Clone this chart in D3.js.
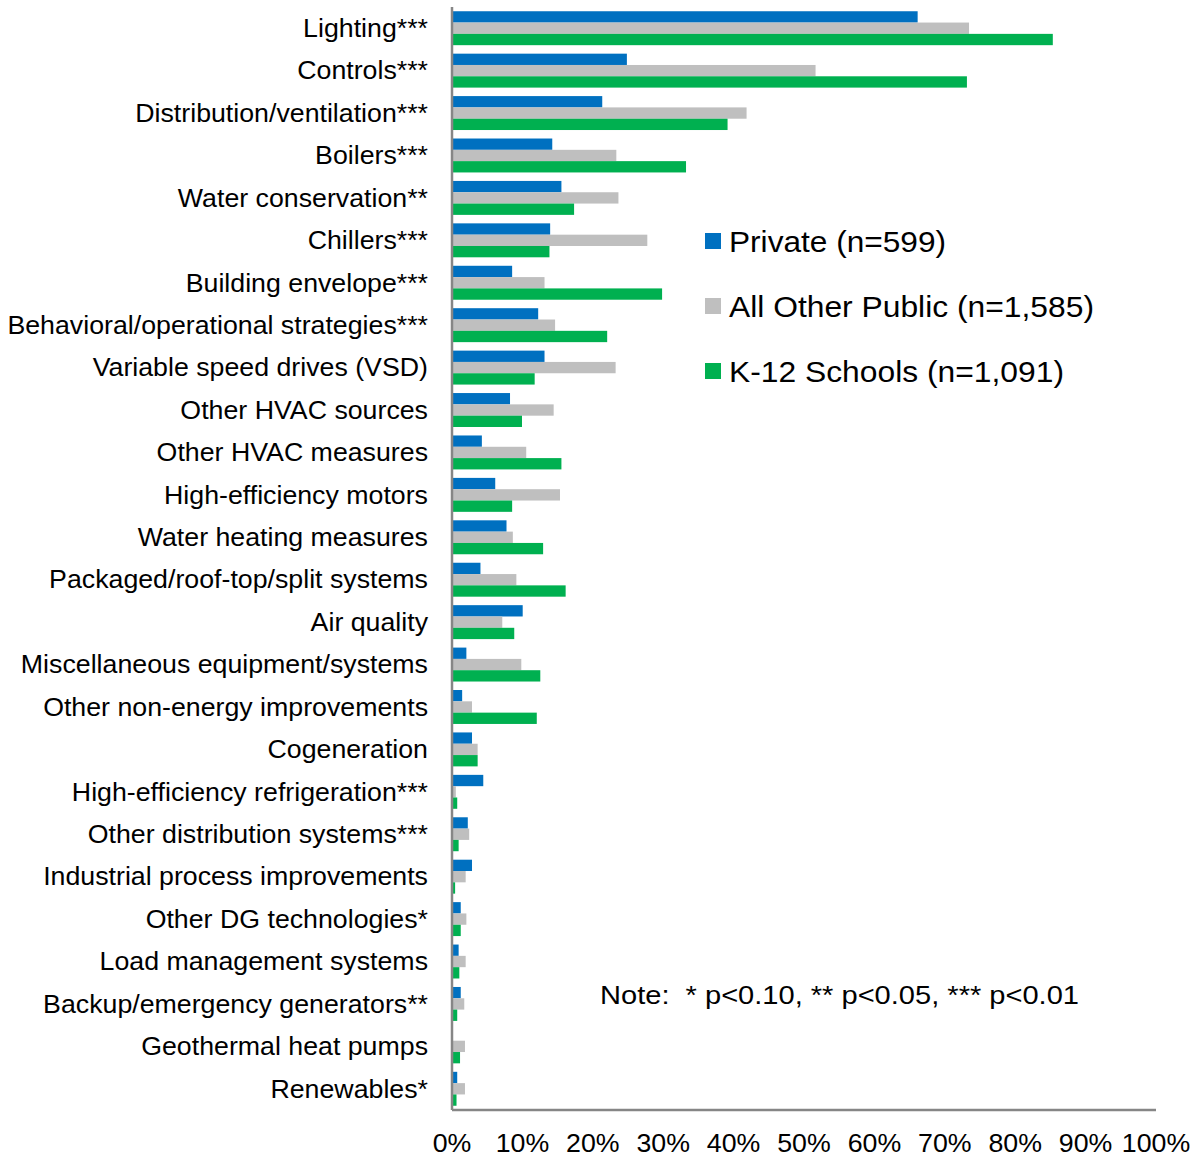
<!DOCTYPE html>
<html lang="en">
<head>
    <meta charset="UTF-8">
    <script src="https://cdn.jsdelivr.net/npm/d3@7/dist/d3.min.js"></script>
    <style>
        body { margin: 0; background: #fff; }
        text { font-family: Arial, "Liberation Sans", sans-serif; fill: #000; }
    </style>
</head>
<body>
    <div id="chart"></div>
</body>
<script>
    // DATA:
    const CATEGORIES = [
        "Lighting***", "Controls***", "Distribution/ventilation***", "Boilers***",
        "Water conservation**", "Chillers***", "Building envelope***",
        "Behavioral/operational strategies***", "Variable speed drives (VSD)",
        "Other HVAC sources", "Other HVAC measures", "High-efficiency motors",
        "Water heating measures", "Packaged/roof-top/split systems", "Air quality",
        "Miscellaneous equipment/systems", "Other non-energy improvements",
        "Cogeneration", "High-efficiency refrigeration***", "Other distribution systems***",
        "Industrial process improvements", "Other DG technologies*",
        "Load management systems", "Backup/emergency generators**",
        "Geothermal heat pumps", "Renewables*"
    ];
    const SERIES = ["Private (n=599)", "All Other Public (n=1,585)", "K-12 Schools (n=1,091)"];
    const PRIVATE = [66.0, 24.7, 21.2, 14.1, 15.4, 13.8, 8.4, 12.1, 13.0, 8.1, 4.1, 6.0, 7.6, 3.9, 9.9, 1.9, 1.3, 2.7, 4.3, 2.1, 2.7, 1.1, 0.8, 1.1, 0.0, 0.6];
    const OTHER_PUBLIC = [73.3, 51.5, 41.7, 23.2, 23.5, 27.6, 13.0, 14.5, 23.1, 14.3, 10.4, 15.2, 8.5, 9.0, 7.0, 9.7, 2.7, 3.5, 0.4, 2.3, 1.8, 1.9, 1.8, 1.6, 1.7, 1.7];
    const K12 = [85.2, 73.0, 39.0, 33.1, 17.2, 13.7, 29.7, 21.9, 11.6, 9.8, 15.4, 8.4, 12.8, 16.0, 8.7, 12.4, 11.9, 3.5, 0.6, 0.8, 0.3, 1.1, 0.9, 0.6, 1.0, 0.5];
    const TICKS = [0, 10, 20, 30, 40, 50, 60, 70, 80, 90, 100];
    const COLORS = ["#0070C0", "#BFBFBF", "#00B050"];
    const NOTE = "Note:  * p<0.10, ** p<0.05, *** p<0.01";

    const WIDTH = 1201, HEIGHT = 1158;
    const margin = { top: 7, left: 452, right: 45, bottom: 48 };
    const STRETCH = 1.07;   // text in the original is a bit wider than Arial

    const svg = d3.select("#chart").append("svg")
        .attr("width", WIDTH)
        .attr("height", HEIGHT);

    // scales
    const x = d3.scaleLinear().domain([0, 100]).range([margin.left, WIDTH - margin.right]);
    const y = d3.scaleBand().domain(CATEGORIES).range([margin.top, HEIGHT - margin.bottom])
        .paddingInner(0.2).paddingOuter(0.1);
    const ySub = d3.scaleBand().domain(d3.range(SERIES.length)).range([0, y.bandwidth()]);

    const seriesVals = [PRIVATE, OTHER_PUBLIC, K12];

    // bars
    const groups = svg.append("g").selectAll("g")
        .data(CATEGORIES)
        .join("g")
        .attr("transform", d => `translate(0,${y(d)})`);

    groups.selectAll("rect")
        .data((d, i) => seriesVals.map((s, k) => ({ k: k, v: s[i] })))
        .join("rect")
        .attr("x", x(0) + 1)
        .attr("y", d => ySub(d.k))
        .attr("width", d => Math.max(0, x(d.v) - x(0)))
        .attr("height", ySub.bandwidth())
        .attr("fill", d => COLORS[d.k]);

    // category labels
    svg.append("g").selectAll("text")
        .data(CATEGORIES)
        .join("text")
        .attr("transform", d => `translate(${margin.left - 24},${y(d) + y.bandwidth() / 2}) scale(${STRETCH},1)`)
        .attr("dy", "0.35em")
        .attr("text-anchor", "end")
        .attr("font-size", 25)
        .text(d => d);

    // axis lines
    svg.append("line")
        .attr("x1", x(0)).attr("x2", x(0))
        .attr("y1", margin.top).attr("y2", HEIGHT - margin.bottom)
        .attr("stroke", "#868686").attr("stroke-width", 2.5);
    svg.append("line")
        .attr("x1", x(0)).attr("x2", x(100))
        .attr("y1", HEIGHT - margin.bottom).attr("y2", HEIGHT - margin.bottom)
        .attr("stroke", "#868686").attr("stroke-width", 2.5);

    // x tick labels
    svg.append("g").selectAll("text")
        .data(TICKS)
        .join("text")
        .attr("transform", d => `translate(${x(d)},1143) scale(${STRETCH},1)`)
        .attr("dy", "0.35em")
        .attr("text-anchor", "middle")
        .attr("font-size", 25)
        .text(d => d + "%");

    // legend
    const LEGEND_W = [217, 365, 335];
    const legend = svg.append("g").attr("transform", "translate(705,241)");
    SERIES.forEach((s, i) => {
        legend.append("rect")
            .attr("x", 0).attr("y", i * 65 - 8)
            .attr("width", 16).attr("height", 16)
            .attr("fill", COLORS[i]);
        legend.append("text")
            .attr("x", 24).attr("y", i * 65)
            .attr("dy", "0.35em")
            .attr("font-size", 30)
            .attr("textLength", LEGEND_W[i])
            .attr("lengthAdjust", "spacingAndGlyphs")
            .text(s);
    });

    // note
    svg.append("text")
        .attr("x", 600).attr("y", 995)
        .attr("dy", "0.35em")
        .attr("font-size", 25)
        .attr("textLength", 479)
        .attr("lengthAdjust", "spacingAndGlyphs")
        .style("white-space", "pre")
        .text(NOTE);
</script>
</html>
